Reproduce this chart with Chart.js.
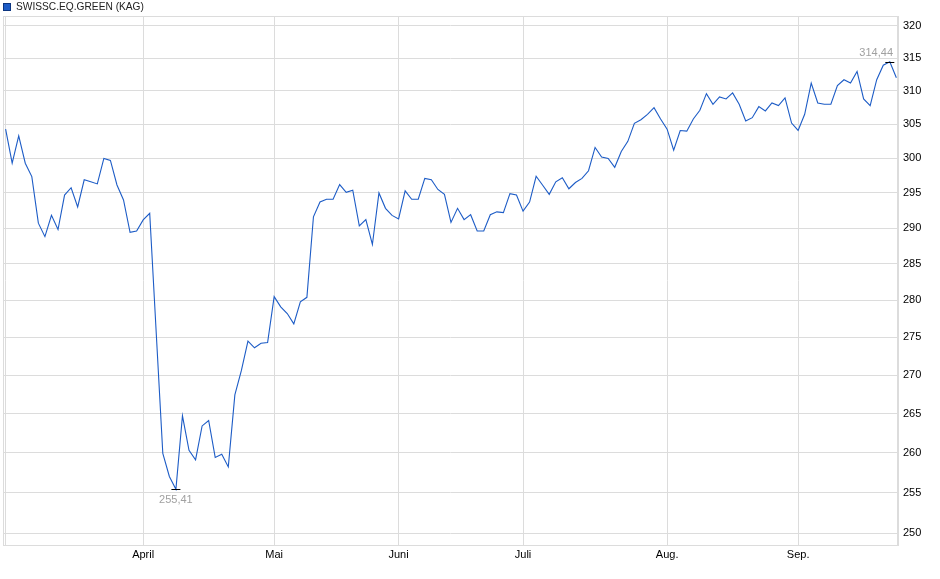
<!DOCTYPE html>
<html>
<head>
<meta charset="utf-8">
<script src="https://cdn.jsdelivr.net/npm/chart.js@4.4.1/dist/chart.umd.min.js"></script>
<style>
  body { margin: 0; background: #fff; }
  #wrap { position: relative; width: 940px; height: 579px; }
  #legend { position: absolute; left: 3px; top: 0; font: 10.2px Arial, "Liberation Sans", sans-serif; color: #222; line-height: 13px; display: flex; align-items: center; }
  #legend span.box { display: inline-block; width: 6px; height: 6px; margin-right: 5px; }
</style>
</head>
<body>
<div id="wrap">
  <canvas id="priceChart" width="940" height="579"></canvas>
  <div id="legend"></div>
</div>
<script>
// Kursverlauf SWISSC.EQ.GREEN (KAG), ein Wert pro Handelstag
const seriesName = 'SWISSC.EQ.GREEN (KAG)';
const prices = [
  304.3, 299.3, 303.3, 299.3, 297.35, 290.7, 288.8, 291.8, 289.8, 294.7,
  295.75, 293.0, 296.9, 296.6, 296.3, 300.0, 299.7, 296.15, 294.0, 289.4,
  289.6, 291.15, 292.1, 275.5, 259.9, 257.0, 255.41, 264.7, 260.3, 259.1,
  263.4, 264.1, 259.4, 259.8, 258.2, 267.4, 270.6, 274.5, 273.6, 274.2,
  274.3, 280.5, 279.1, 278.2, 276.8, 279.8, 280.4, 291.6, 293.7, 294.1,
  294.1, 296.2, 295.1, 295.4, 290.3, 291.2, 287.7, 295.0, 292.8, 291.8,
  291.3, 295.3, 294.1, 294.1, 297.1, 296.9, 295.5, 294.8, 290.8, 292.8,
  291.2, 291.9, 289.6, 289.6, 291.9, 292.3, 292.2, 294.9, 294.7, 292.4,
  293.7, 297.4, 296.1, 294.8, 296.6, 297.2, 295.6, 296.5, 297.1, 298.2,
  301.6, 300.2, 300.0, 298.7, 301.0, 302.5, 305.15, 305.7, 306.5, 307.5,
  305.8, 304.3, 301.2, 304.1, 304.0, 305.8, 307.1, 309.6, 308.0, 309.1,
  308.8, 309.7, 308.0, 305.5, 306.0, 307.65, 307.0, 308.2, 307.8, 308.95,
  305.2, 304.1, 306.5, 311.2, 308.2, 308.0, 308.0, 310.8, 311.7, 311.2,
  312.95, 308.8, 307.8, 311.7, 313.9, 314.44, 312.0
];
// erster Handelstag jedes Monats (Index in prices)
const monthStarts = [0, 21, 41, 60, 79, 101, 121];
const monthLabels = ['', 'April', 'Mai', 'Juni', 'Juli', 'Aug.', 'Sep.'];
const yTicks = [250, 255, 260, 265, 270, 275, 280, 285, 290, 295, 300, 305, 310, 315, 320];

const lineColor = '#1d5cc6';
const gridColor = '#dcdcdc';

Chart.defaults.font.family = 'Arial, "Liberation Sans", sans-serif';
Chart.defaults.font.size = 11;
Chart.defaults.color = '#000';

const fmt = v => v.toFixed(2).replace('.', ',');

// Rahmen um die Zeichenfläche
const framePlugin = {
  id: 'frame',
  beforeDatasetsDraw(chart) {
    const { ctx, chartArea: a } = chart;
    ctx.save();
    ctx.strokeStyle = gridColor;
    ctx.lineWidth = 1;
    ctx.strokeRect(a.left + 0.5, a.top + 0.5, a.right - a.left - 1, a.bottom - a.top);
    ctx.restore();
  }
};

// Hoch / Tief markieren
const extremaPlugin = {
  id: 'extrema',
  afterDatasetsDraw(chart) {
    const { ctx, chartArea: a, scales } = chart;
    const lo = prices.indexOf(Math.min(...prices));
    const hi = prices.indexOf(Math.max(...prices));
    ctx.save();
    ctx.font = '11px Arial, "Liberation Sans", sans-serif';
    ctx.textBaseline = 'middle';
    [[lo, 1], [hi, -1]].forEach(([i, dir]) => {
      const px = scales.x.getPixelForValue(i);
      const py = Math.round(scales.y.getPixelForValue(prices[i])) + 0.5;
      ctx.strokeStyle = '#000';
      ctx.lineWidth = 1;
      ctx.beginPath();
      ctx.moveTo(px - 4.5, py);
      ctx.lineTo(px + 4.5, py);
      ctx.stroke();
      const txt = fmt(prices[i]);
      const w = ctx.measureText(txt).width;
      const cx = Math.min(px, a.right - 5 - w / 2);
      ctx.fillStyle = '#a0a0a0';
      ctx.textAlign = 'center';
      ctx.fillText(txt, cx, py + dir * 10);
    });
    ctx.restore();
  }
};

const ctx = document.getElementById('priceChart').getContext('2d');
const chart = new Chart(ctx, {
  type: 'line',
  data: {
    datasets: [{
      label: seriesName,
      data: prices.map((v, i) => ({ x: i, y: v })),
      borderColor: lineColor,
      backgroundColor: lineColor,
      borderWidth: 1.1,
      pointRadius: 0,
      tension: 0,
      fill: false
    }]
  },
  options: {
    responsive: false,
    animation: false,
    layout: { padding: { left: 3, top: 16, right: 0, bottom: 0 } },
    plugins: { legend: { display: false }, tooltip: { enabled: false } },
    scales: {
      x: {
        type: 'linear',
        min: -0.4,
        max: 136.25,
        afterBuildTicks: axis => { axis.ticks = monthStarts.map(v => ({ value: v })); },
        afterFit: axis => { axis.height = 34; },
        ticks: {
          autoSkip: false,
          maxRotation: 0,
          padding: 3,
          callback: value => monthLabels[monthStarts.indexOf(value)] ?? ''
        },
        grid: { color: gridColor, drawTicks: false },
        border: { color: gridColor }
      },
      y: {
        type: 'logarithmic',
        position: 'right',
        min: 248.58,
        max: 321.51,
        afterBuildTicks: axis => { axis.ticks = yTicks.map(v => ({ value: v })); },
        afterFit: axis => { axis.width = 42; },
        ticks: { padding: 5, callback: value => String(value) },
        grid: { color: gridColor, drawTicks: false },
        border: { color: gridColor }
      }
    }
  },
  plugins: [framePlugin, extremaPlugin]
});

// HTML-Legende aus dem Datensatz
const legend = document.getElementById('legend');
chart.data.datasets.forEach(ds => {
  const box = document.createElement('span');
  box.className = 'box';
  box.style.background = ds.borderColor;
  box.style.border = '1px solid #0c3580';
  legend.appendChild(box);
  legend.appendChild(document.createTextNode(ds.label));
});
</script>
</body>
</html>
